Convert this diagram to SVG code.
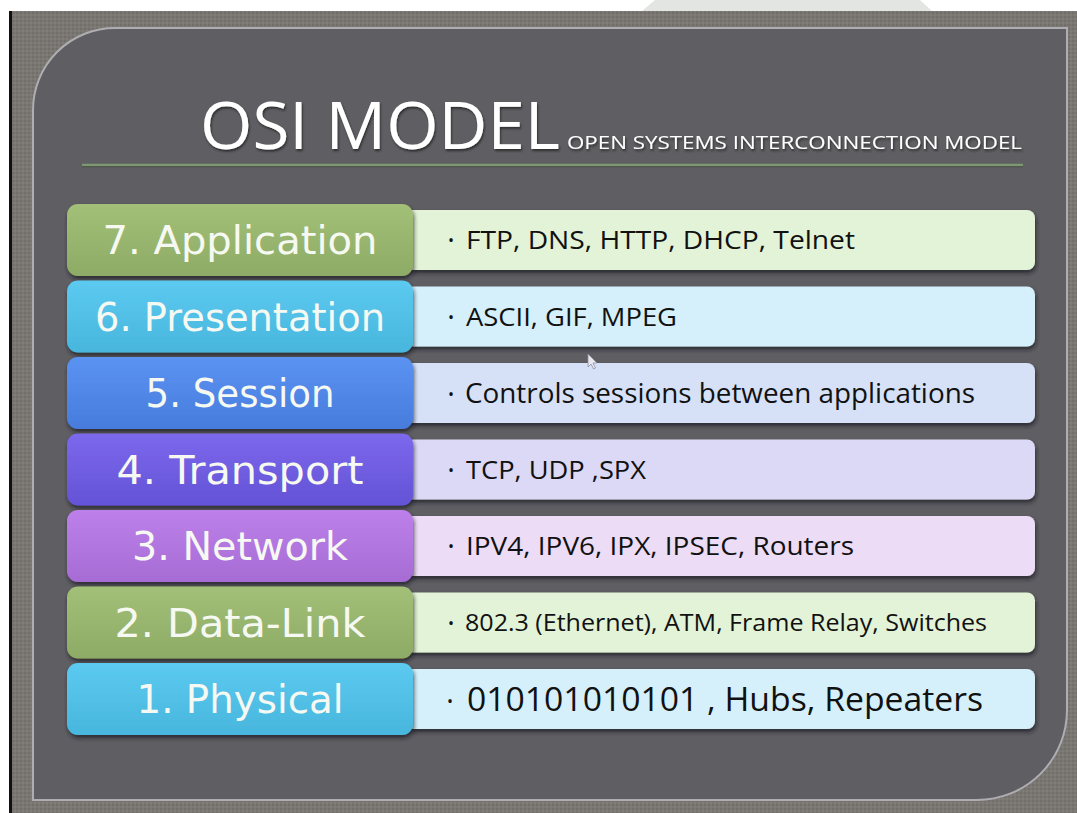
<svg xmlns="http://www.w3.org/2000/svg" width="1077" height="813" viewBox="0 0 1077 813">
  <defs>
    <pattern id="tex" width="4" height="4" patternUnits="userSpaceOnUse">
      <rect width="4" height="4" fill="#7a7671"/>
      <rect width="2" height="2" fill="#726e6a"/>
      <rect x="2" y="2" width="2" height="2" fill="#807c77"/>
    </pattern>
    <filter id="sh" x="-5%" y="-10%" width="112%" height="130%">
      <feDropShadow dx="1" dy="3" stdDeviation="2" flood-color="#1e1e22" flood-opacity="0.75"/>
    </filter>
    <filter id="tsh" x="-5%" y="-20%" width="110%" height="140%">
      <feDropShadow dx="1" dy="2" stdDeviation="1.2" flood-color="#202024" flood-opacity="0.8"/>
    </filter>
    <linearGradient id="gGreen" x1="0" y1="0" x2="0" y2="1">
      <stop offset="0" stop-color="#a3c078"/>
      <stop offset="1" stop-color="#8eab66"/>
    </linearGradient>
    <linearGradient id="gCyan" x1="0" y1="0" x2="0" y2="1">
      <stop offset="0" stop-color="#5ccaf0"/>
      <stop offset="1" stop-color="#48b6dd"/>
    </linearGradient>
    <linearGradient id="gBlue" x1="0" y1="0" x2="0" y2="1">
      <stop offset="0" stop-color="#5b93f2"/>
      <stop offset="1" stop-color="#477cdc"/>
    </linearGradient>
    <linearGradient id="gIndigo" x1="0" y1="0" x2="0" y2="1">
      <stop offset="0" stop-color="#7c68ec"/>
      <stop offset="1" stop-color="#6453d6"/>
    </linearGradient>
    <linearGradient id="gViolet" x1="0" y1="0" x2="0" y2="1">
      <stop offset="0" stop-color="#bd80ea"/>
      <stop offset="1" stop-color="#a66cd4"/>
    </linearGradient>
    <style>
      .lbox { stroke: none; }
      .rbox { stroke: none; }
      .lbl { font-family: "DejaVu Sans", "Liberation Sans", sans-serif; font-size: 39px; fill: #f6f9f2; text-anchor: middle; }
      .desc { font-family: "Open Sans", "Liberation Sans", sans-serif; fill: #111111; }
      .bul { font-family: "Open Sans", "Liberation Sans", sans-serif; fill: #111111; font-size: 16px; }
      .title { font-family: "Open Sans", "Liberation Sans", sans-serif; fill: #ffffff; }
    </style>
  </defs>

  <!-- page background -->
  <rect x="0" y="0" width="1077" height="813" fill="#ffffff"/>
  <polygon points="655,0 920,0 932,11 642,11" fill="#e3e5e3"/>
  <rect x="12" y="11" width="1065" height="802" fill="url(#tex)"/>
  <rect x="9" y="11" width="3" height="802" fill="#111111"/>

  <!-- panel -->
  <path d="M33,110 A82,82 0 0 1 115,28 L1067,28 L1067,710 A90,90 0 0 1 977,800 L33,800 Z" fill="#5f5e63" stroke="#aeadb2" stroke-width="2"/>

  <!-- title -->
  <g id="title">
    <text class="title" x="200" y="149" font-size="66" textLength="360" lengthAdjust="spacingAndGlyphs" filter="url(#tsh)">OSI MODEL</text>
    <text class="title" x="567" y="149" font-size="19" textLength="455" lengthAdjust="spacingAndGlyphs" filter="url(#tsh)">OPEN SYSTEMS INTERCONNECTION MODEL</text>
    <line x1="82" y1="165" x2="1023" y2="165" stroke="#7d9870" stroke-width="2.5"/>
    <line x1="82" y1="166.8" x2="1023" y2="166.8" stroke="#4b5048" stroke-width="1"/>
  </g>

  <!-- layer 7 -->
  <g id="layer7">
    <rect class="rbox" x="405" y="210" width="630" height="60" rx="8" fill="#e3f3d8" filter="url(#sh)"/>
    <rect class="lbox" x="67" y="204" width="346" height="72" rx="11" fill="url(#gGreen)" filter="url(#sh)"/>
    <text class="lbl" x="240" y="254" textLength="275" lengthAdjust="spacingAndGlyphs">7. Application</text>
    <text class="bul" x="448" y="246">•</text>
    <text class="desc" x="466" y="249" font-size="25.5" textLength="389" lengthAdjust="spacingAndGlyphs">FTP, DNS, HTTP, DHCP, Telnet</text>
  </g>

  <!-- layer 6 -->
  <g id="layer6">
    <rect class="rbox" x="405" y="286.5" width="630" height="60" rx="8" fill="#d5f0fb" filter="url(#sh)"/>
    <rect class="lbox" x="67" y="280.5" width="346" height="72" rx="11" fill="url(#gCyan)" filter="url(#sh)"/>
    <text class="lbl" x="240" y="330.5" textLength="290" lengthAdjust="spacingAndGlyphs">6. Presentation</text>
    <text class="bul" x="448" y="322.5">•</text>
    <text class="desc" x="466" y="325.5" font-size="25.5" textLength="211" lengthAdjust="spacingAndGlyphs">ASCII, GIF, MPEG</text>
  </g>

  <!-- layer 5 -->
  <g id="layer5">
    <rect class="rbox" x="405" y="363" width="630" height="60" rx="8" fill="#d6e1f8" filter="url(#sh)"/>
    <rect class="lbox" x="67" y="357" width="346" height="72" rx="11" fill="url(#gBlue)" filter="url(#sh)"/>
    <text class="lbl" x="240" y="407" textLength="189" lengthAdjust="spacingAndGlyphs">5. Session</text>
    <text class="bul" x="448" y="400">•</text>
    <text class="desc" x="465" y="402.5" font-size="27.5" textLength="510" lengthAdjust="spacingAndGlyphs">Controls sessions between applications</text>
  </g>

  <!-- layer 4 -->
  <g id="layer4">
    <rect class="rbox" x="405" y="439.5" width="630" height="60" rx="8" fill="#dcd9f6" filter="url(#sh)"/>
    <rect class="lbox" x="67" y="433.5" width="346" height="72" rx="11" fill="url(#gIndigo)" filter="url(#sh)"/>
    <text class="lbl" x="240" y="483.5" textLength="247" lengthAdjust="spacingAndGlyphs">4. Transport</text>
    <text class="bul" x="448" y="475.5">•</text>
    <text class="desc" x="466" y="478.5" font-size="25.5" textLength="180" lengthAdjust="spacingAndGlyphs">TCP, UDP ,SPX</text>
  </g>

  <!-- layer 3 -->
  <g id="layer3">
    <rect class="rbox" x="405" y="516" width="630" height="60" rx="8" fill="#eddcf6" filter="url(#sh)"/>
    <rect class="lbox" x="67" y="510" width="346" height="72" rx="11" fill="url(#gViolet)" filter="url(#sh)"/>
    <text class="lbl" x="240" y="560" textLength="216" lengthAdjust="spacingAndGlyphs">3. Network</text>
    <text class="bul" x="448" y="552">•</text>
    <text class="desc" x="466" y="555" font-size="25.5" textLength="388" lengthAdjust="spacingAndGlyphs">IPV4, IPV6, IPX, IPSEC, Routers</text>
  </g>

  <!-- layer 2 -->
  <g id="layer2">
    <rect class="rbox" x="405" y="592.5" width="630" height="60" rx="8" fill="#e3f3d8" filter="url(#sh)"/>
    <rect class="lbox" x="67" y="586.5" width="346" height="72" rx="11" fill="url(#gGreen)" filter="url(#sh)"/>
    <text class="lbl" x="240" y="636.5" textLength="251" lengthAdjust="spacingAndGlyphs">2. Data-Link</text>
    <text class="bul" x="448" y="628.5">•</text>
    <text class="desc" x="465" y="631" font-size="24" textLength="522" lengthAdjust="spacingAndGlyphs">802.3 (Ethernet), ATM, Frame Relay, Switches</text>
  </g>

  <!-- layer 1 -->
  <g id="layer1">
    <rect class="rbox" x="405" y="669" width="630" height="60" rx="8" fill="#d5f0fb" filter="url(#sh)"/>
    <rect class="lbox" x="67" y="663" width="346" height="72" rx="11" fill="url(#gCyan)" filter="url(#sh)"/>
    <text class="lbl" x="240" y="713" textLength="207" lengthAdjust="spacingAndGlyphs">1. Physical</text>
    <text class="bul" x="447" y="707" font-size="20">•</text>
    <text class="desc" x="467" y="711" font-size="32" textLength="516" lengthAdjust="spacingAndGlyphs">010101010101 , Hubs, Repeaters</text>
  </g>

  <!-- mouse pointer -->
  <path d="M588,354 L588,367 L591,364 L593.5,369 L595.5,368 L593,363 L597,363 Z" fill="#e8e8f0" stroke="#9090a0" stroke-width="0.8"/>
</svg>
